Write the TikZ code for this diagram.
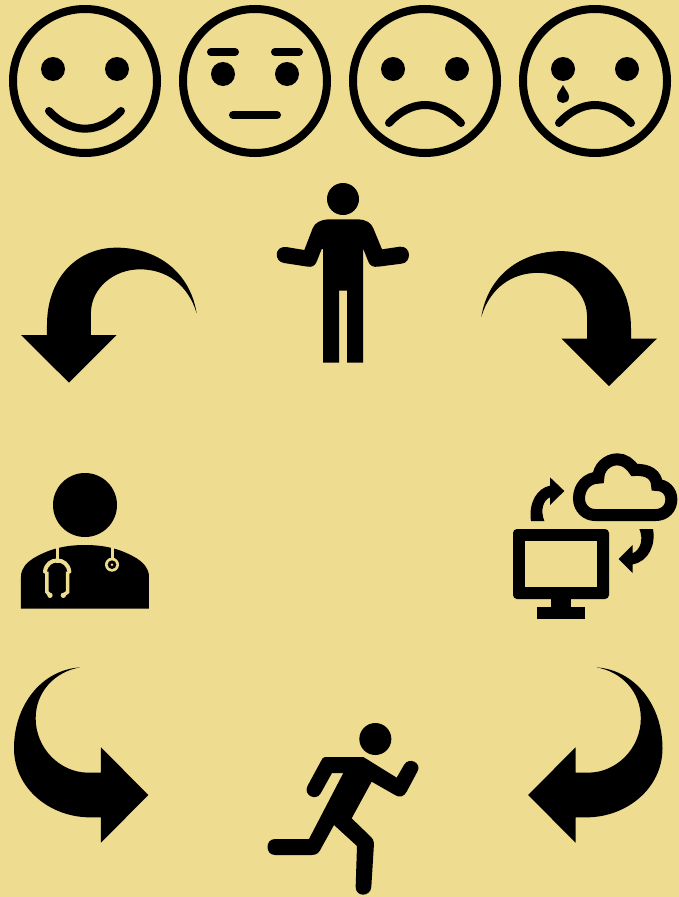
\documentclass[tikz,border=0pt]{standalone}
\usepackage{tikz}

\definecolor{sandbg}{HTML}{EEDC91}

\tikzset{
    faceline/.style={draw=black, line width=8pt},
    facestroke/.style={draw=black, line width=8pt, line cap=round},
    cutline/.style={draw=sandbg, line width=3.5pt},
    arrowdown/.pic={
        \fill[black] (590,235) .. controls (570,110) and (470,38) .. (350,38)
            .. controls (230,38) and (141,130) .. (141,270) -- (141,300) -- (63,300)
            -- (207,443) -- (350,300) -- (273,300) -- (273,230)
            .. controls (275,160) and (340,103) .. (420,103)
            .. controls (500,103) and (565,150) .. (590,235) -- cycle;
    },
    arrowside/.pic={
        \fill[black] (240,37) .. controls (125,45) and (42,150) .. (42,280)
            .. controls (42,400) and (150,487) .. (270,487) -- (303,487) -- (303,563)
            -- (445,420) -- (303,277) -- (303,353) -- (265,353)
            .. controls (180,353) and (107,280) .. (107,190)
            .. controls (107,110) and (165,50) .. (240,37) -- cycle;
    },
}

\begin{document}
\begin{tikzpicture}[x=1pt, y=-1pt]
    \fill[sandbg] (0,0) rectangle (679,897);
    \useasboundingbox (0,0) rectangle (679,897);

    % faces
    \foreach \cx in {85,255,425,595} {
        \draw[faceline] (\cx,81) circle (72);
    }
    \foreach \cx in {85,425,595} {
        \fill[black] (\cx-32,69) circle (12);
        \fill[black] (\cx+32,69) circle (12);
    }
    \fill[black] (223,74) circle (12);
    \fill[black] (287,74) circle (12);
    \draw[facestroke] (211,52) -- (235,52);
    \draw[facestroke] (275,52) -- (299,52);
    \draw[facestroke] (233,115) -- (277,115);
    \draw[facestroke] (49,111) .. controls (59,122) and (72,128.7) .. (85,128.7)
        .. controls (98,128.7) and (111,122) .. (121,111);
    \foreach \cx in {425,595} {
        \draw[facestroke] (\cx-36,123) .. controls (\cx-26,112) and (\cx-13,105) .. (\cx,105)
            .. controls (\cx+13,105) and (\cx+26,112) .. (\cx+36,123);
    }
    \fill[black] (563,85) .. controls (560,91) and (557,93) .. (557,97)
        .. controls (557,105) and (569,105) .. (569,97)
        .. controls (569,93) and (566,91) .. (563,85) -- cycle;

    % shrugging man
    \begin{scope}[shift={(260,170)}, scale=1/3]
        \fill[black] (249,87) circle (48);
        \fill[black] (205,148) -- (295,148) .. controls (320,150) and (333,158) .. (340,175)
            -- (366,238) -- (420,230) .. controls (455,228) and (455,278) .. (425,281)
            -- (355,290) .. controls (340,292) and (330,288) .. (325,275)
            -- (310,237) -- (309,237) -- (309,578) -- (261,578) -- (261,362) -- (237,362)
            -- (237,578) -- (189,578) -- (189,237) -- (185,237) -- (170,275)
            .. controls (165,288) and (155,292) .. (143,290)
            -- (72,279) .. controls (42,275) and (42,228) .. (78,231)
            -- (133,240) -- (158,175) .. controls (165,158) and (180,150) .. (205,148) -- cycle;
    \end{scope}

    % curved arrows
    \pic[scale=1/3] at (0,235) {arrowdown};
    \pic[xscale=-1/3, yscale=1/3] at (678,238.5) {arrowdown};
    \pic[scale=1/3] at (0,655) {arrowside};
    \pic[xscale=-1/3, yscale=1/3] at (676.5,655) {arrowside};

    % doctor
    \begin{scope}[shift={(0,460)}, scale=1/3]
        \fill[black] (255,135) circle (96);
        \fill[black] (63,446) -- (63,350) .. controls (63,325) and (80,308) .. (100,295)
            .. controls (150,265) and (200,255) .. (255,255)
            .. controls (310,255) and (360,265) .. (410,295)
            .. controls (430,308) and (447,325) .. (447,350) -- (447,446) -- cycle;
        \draw[cutline] (172,262) -- (172,310);
        \draw[cutline, line width=4pt, line cap=round] (135,335)
            .. controls (140,290) and (203,290) .. (208,335);
        \draw[cutline] (141,335) -- (141,396) -- (150,406);
        \draw[cutline] (203,335) -- (203,396) -- (190,406);
        \fill[sandbg] (150,406) circle (8);
        \fill[sandbg] (190,406) circle (8);
        \draw[cutline] (337,262) -- (337,295);
        \fill[sandbg] (336,314) circle (21);
        \fill[black] (336,314) circle (13);
        \fill[sandbg] (336,314) circle (4);
    \end{scope}

    % monitor and cloud
    \begin{scope}[shift={(500,445)}, scale=1/3]
        \fill[black, rounded corners=4pt] (39,252) rectangle (327,462);
        \fill[sandbg] (75,288) rectangle (291,426);
        \fill[black] (153,462) rectangle (213,486);
        \fill[black] (111,486) rectangle (255,522);
        \draw[black, line width=12pt] (285,210) -- (467,210)
            .. controls (495,210) and (514,190) .. (514,163)
            .. controls (514,138) and (495,120) .. (471,120)
            .. controls (470,90) and (445,72) .. (403,75)
            .. controls (390,55) and (372,43) .. (352,43)
            .. controls (320,43) and (295,70) .. (295,98)
            .. controls (262,98) and (237,125) .. (237,160)
            .. controls (237,190) and (260,210) .. (285,210) -- cycle;
        \fill[black] (93,228) .. controls (85,175) and (110,130) .. (150,122) -- (150,97)
            -- (193,138) -- (150,180) -- (150,157) .. controls (130,165) and (120,195) .. (133,228) -- cycle;
        \fill[black] (418,252) .. controls (432,285) and (420,315) .. (398,325) -- (398,300)
            -- (356,342) -- (398,384) -- (398,358) .. controls (445,350) and (468,300) .. (459,252) -- cycle;
    \end{scope}

    % runner
    \begin{scope}[shift={(260,710)}, scale=1/3]
        \fill[black] (346,87) circle (48);
        \fill[black] (195,141) -- (310,141) -- (410,203) -- (432,165)
            .. controls (447,138) and (488,160) .. (472,185) -- (440,245)
            .. controls (432,260) and (418,264) .. (405,255) -- (335,215) -- (275,325)
            -- (330,378) .. controls (338,386) and (342,392) .. (342,400) -- (334,530)
            .. controls (332,562) and (286,562) .. (287,530) -- (291,408) -- (222,345)
            -- (185,412) .. controls (178,428) and (170,435) .. (155,435) -- (45,435)
            .. controls (15,435) and (15,387) .. (45,387) -- (147,387) -- (250,189)
            -- (216,189) -- (182,250) .. controls (168,275) and (128,255) .. (143,227)
            -- (182,155) .. controls (186,146) and (190,141) .. (195,141) -- cycle;
    \end{scope}
\end{tikzpicture}
\end{document}
